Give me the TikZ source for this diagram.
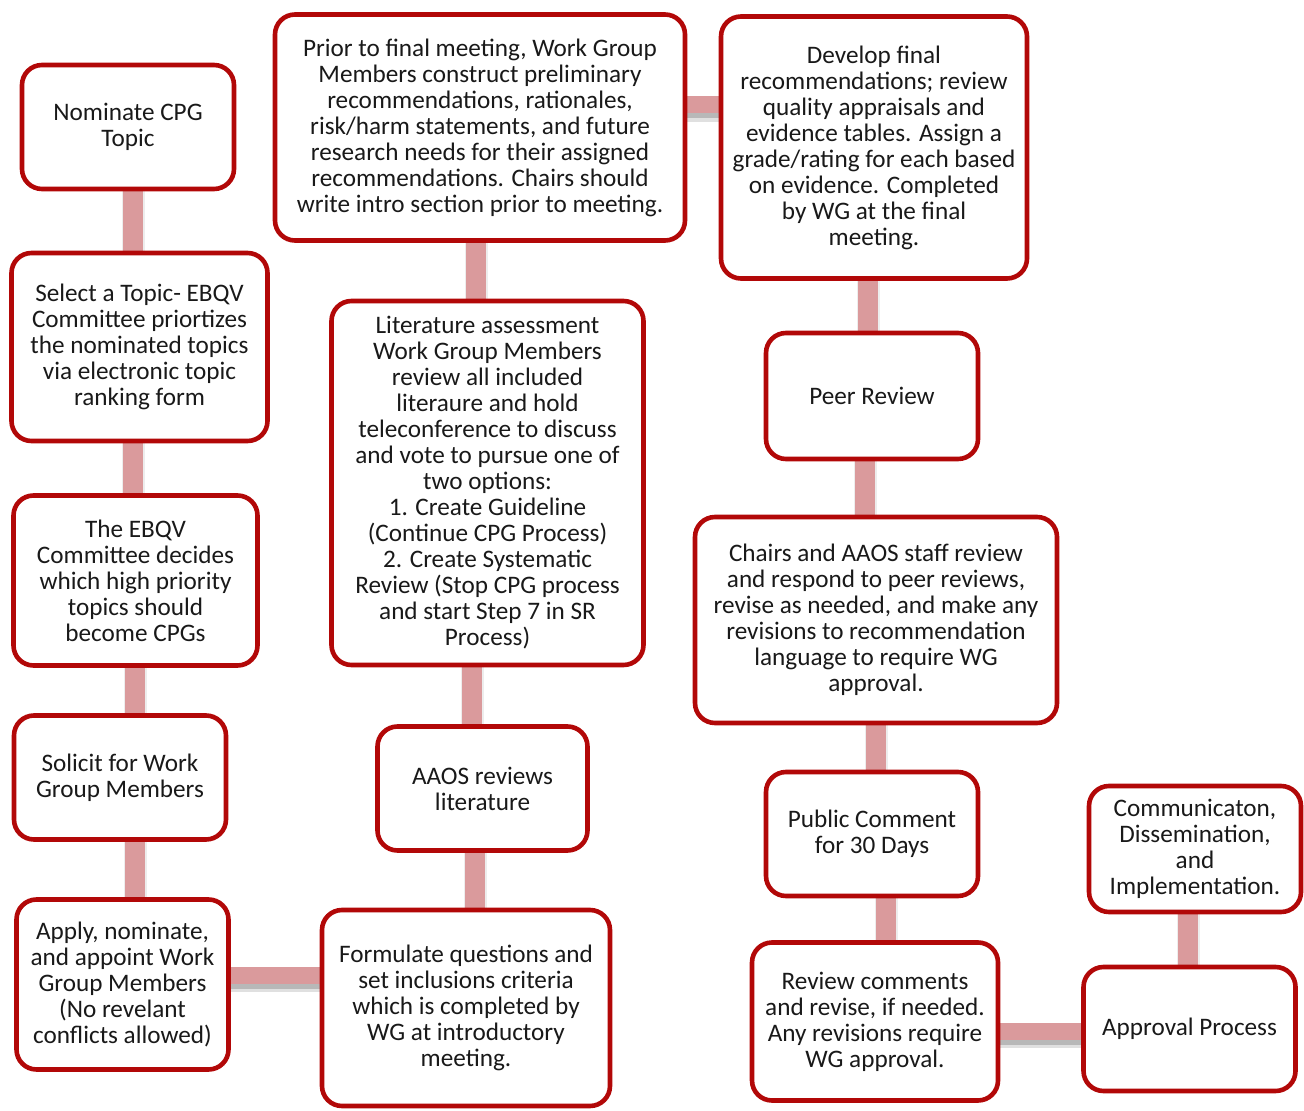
\documentclass[tikz,border=0pt]{standalone}
\usepackage{fontspec}
\setmainfont{Carlito}
\usepackage{tikz}
\usetikzlibrary{backgrounds}
\definecolor{boxred}{RGB}{178,8,8}
\definecolor{linkpink}{RGB}{218,154,156}
\definecolor{txt}{RGB}{25,25,25}

\tikzset{
  stepbox/.style={draw=boxred,line width=2.3pt,fill=white,rounded corners=10pt,
    align=center,inner sep=2pt,text=txt,font=\fontsize{12.6}{13}\selectfont},
  vlink/.style={linkpink,line width=10pt,preaction={draw=black!7,line width=11.5pt}},
  hlink/.style={linkpink,line width=8.5pt,
    preaction={draw=black!12,line width=9pt,transform canvas={yshift=-4pt}},
    preaction={draw=black!28,line width=8.5pt,transform canvas={yshift=-2.5pt}}}
}

\begin{document}
\begin{tikzpicture}[x=0.5pt,y=-0.5pt]
  \useasboundingbox (0,0) rectangle (1304,1111);
  % left column
  \node[stepbox,minimum width=106pt,minimum height=62pt] (nom) at (128,127) {Nominate CPG\\Topic};
  \node[stepbox,minimum width=128pt,minimum height=94pt] (sel) at (139.5,347) {Select a Topic- EBQV\\Committee priortizes\\the nominated topics\\via electronic topic\\ranking form};
  \node[stepbox,minimum width=122pt,minimum height=85pt] (ebqv) at (135.5,580.5) {The EBQV\\Committee decides\\which high priority\\topics should\\become CPGs};
  \node[stepbox,minimum width=106pt,minimum height=62pt] (sol) at (120,777.5) {Solicit for Work\\Group Members};
  \node[stepbox,minimum width=106pt,minimum height=85pt] (app) at (122.5,984.5) {Apply, nominate,\\and appoint Work\\Group Members\\(No revelant\\conflicts allowed)};
  % middle column
  \node[stepbox,minimum width=144pt,minimum height=98pt] (form) at (466,1008) {Formulate questions and\\set inclusions criteria\\which is completed by\\WG at introductory\\meeting.};
  \node[stepbox,minimum width=105pt,minimum height=62pt] (aaos) at (482.5,788.5) {AAOS reviews\\literature};
  \node[stepbox,minimum width=156pt,minimum height=182pt] (lit) at (487.5,483) {Literature assessment\\Work Group Members\\review all included\\literaure and hold\\teleconference to discuss\\and vote to pursue one of\\two options:\\1. Create Guideline\\(Continue CPG Process)\\2. Create Systematic\\Review (Stop CPG process\\and start Step 7 in SR\\Process)};
  \node[stepbox,minimum width=205pt,minimum height=113pt] (prior) at (480,127.5) {Prior to final meeting, Work Group\\Members construct preliminary\\recommendations, rationales,\\risk/harm statements, and future\\research needs for their assigned\\recommendations. Chairs should\\write intro section prior to meeting.};
  % right column
  \node[stepbox,minimum width=153pt,minimum height=131pt] (dev) at (874,147.5) {Develop final\\recommendations; review\\quality appraisals and\\evidence tables. Assign a\\grade/rating for each based\\on evidence. Completed\\by WG at the final\\meeting.};
  \node[stepbox,minimum width=106pt,minimum height=63pt] (peer) at (872,396) {Peer Review};
  \node[stepbox,minimum width=181pt,minimum height=103pt] (chairs) at (876,620) {Chairs and AAOS staff review\\and respond to peer reviews,\\revise as needed, and make any\\revisions to recommendation\\language to require WG\\approval.};
  \node[stepbox,minimum width=106pt,minimum height=62pt] (pub) at (872,834) {Public Comment\\for 30 Days};
  \node[stepbox,minimum width=123pt,minimum height=79pt] (rev) at (875,1021.5) {Review comments\\and revise, if needed.\\Any revisions require\\WG approval.};
  \node[stepbox,minimum width=106pt,minimum height=62pt] (apr) at (1189.5,1029) {Approval Process};
  \node[stepbox,minimum width=106pt,minimum height=63pt] (com) at (1195,849) {Communicaton,\\Dissemination,\\and\\Implementation.};
  % links
  \begin{scope}[on background layer]
    \draw[vlink] (nom.south -| 133,0) -- (sel.north -| 133,0);
    \draw[vlink] (sel.south -| 133,0) -- (ebqv.north -| 133,0);
    \draw[vlink] (ebqv.south -| 135,0) -- (sol.north -| 135,0);
    \draw[vlink] (sol.south -| 135,0) -- (app.north -| 135,0);
    \draw[hlink] (app.east |- 0,975) -- (form.west |- 0,975);
    \draw[vlink] (form.north -| 475,0) -- (aaos.south -| 475,0);
    \draw[vlink] (aaos.north -| 472,0) -- (lit.south -| 472,0);
    \draw[vlink] (lit.north -| 476,0) -- (prior.south -| 476,0);
    \draw[hlink] (prior.east |- 0,105) -- (dev.west |- 0,105);
    \draw[vlink] (dev.south -| 868,0) -- (peer.north -| 868,0);
    \draw[vlink] (peer.south -| 865,0) -- (chairs.north -| 865,0);
    \draw[vlink] (chairs.south -| 876,0) -- (pub.north -| 876,0);
    \draw[vlink] (pub.south -| 886,0) -- (rev.north -| 886,0);
    \draw[hlink] (rev.east |- 0,1031) -- (apr.west |- 0,1031);
    \draw[vlink] (apr.north -| 1188,0) -- (com.south -| 1188,0);
  \end{scope}
\end{tikzpicture}
\end{document}
